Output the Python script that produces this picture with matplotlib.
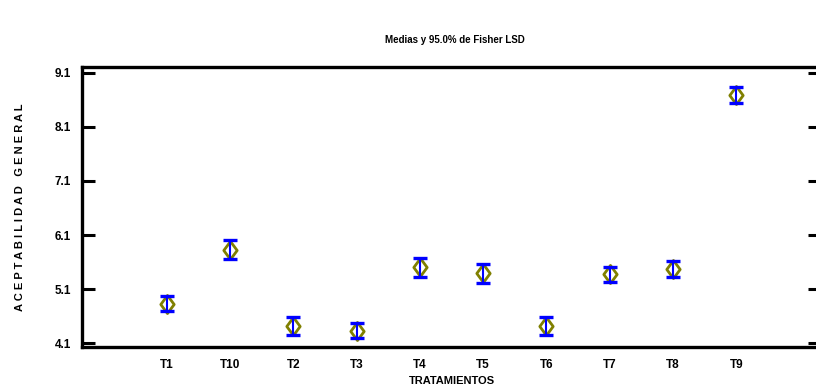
"""
Medias y 95.0% de Fisher LSD -- ACEPTABILIDAD GENERAL por tratamiento.
"""

import matplotlib
matplotlib.use("Agg")
import matplotlib.pyplot as plt
from matplotlib.path import Path

# ── Data ─────────────────────────────────────────────────────────────
tratamientos = ["T1", "T10", "T2", "T3", "T4", "T5", "T6", "T7", "T8", "T9"]
medias = [4.83, 5.83, 4.41, 4.33, 5.50, 5.39, 4.41, 5.37, 5.47, 8.69]
lsd_half = [0.145, 0.176, 0.17, 0.145, 0.176, 0.17, 0.17, 0.145, 0.143, 0.148]
y_ticks = [4.1, 5.1, 6.1, 7.1, 8.1, 9.1]

FONT = ["Liberation Sans Narrow", "Liberation Sans", "DejaVu Sans"]
plt.rcParams["font.family"] = FONT
plt.rcParams["font.weight"] = "bold"

fig = plt.figure(figsize=(8.16, 3.92), dpi=100)
ax = fig.add_axes([82 / 816, 45 / 392, 739 / 816, 280 / 392])

x = list(range(1, len(tratamientos) + 1))

# thin outlined diamond at each mean
diamond = Path([(0, 1), (0.74, 0), (0, -1), (-0.74, 0), (0, 1)],
               [Path.MOVETO, Path.LINETO, Path.LINETO, Path.LINETO, Path.CLOSEPOLY])
ax.plot(x, medias, linestyle="none", marker=diamond, markersize=13,
        markerfacecolor="none", markeredgecolor="#808000", markeredgewidth=2.0,
        zorder=2)

# LSD intervals
ax.errorbar(x, medias, yerr=lsd_half, fmt="none", ecolor="#0000ff",
            elinewidth=1.5, capsize=4.8, capthick=2.4, zorder=3)

ax.set_xlim(5.5 - 5.836, 5.5 + 5.836)
ax.set_ylim(4.026, 9.211)
ax.set_xticks(x)
ax.set_xticklabels(tratamientos)
ax.set_yticks(y_ticks)
ax.set_yticklabels([f"{v:.1f}" for v in y_ticks])

ax.tick_params(axis="x", length=0, pad=9, labelsize=8.5)
ax.tick_params(axis="y", direction="in", length=9.5, width=2.2,
               left=True, right=True, labelsize=8.5, pad=8)

for side in ["left", "bottom", "top", "right"]:
    ax.spines[side].set_linewidth(2.4)

ax.set_xlabel("TRATAMIENTOS", fontsize=8, fontweight="bold", labelpad=3)
ax.set_ylabel("A C E P T A B I L I D A D   G E N E R A L", fontsize=8,
              fontweight="bold", labelpad=21, family=["Liberation Sans", "DejaVu Sans"])

fig.text(0.557, (392 - 40) / 392, "Medias y 95.0% de Fisher LSD",
         ha="center", va="center", fontsize=7, fontweight="bold")

fig.savefig("out.png", dpi=100)
